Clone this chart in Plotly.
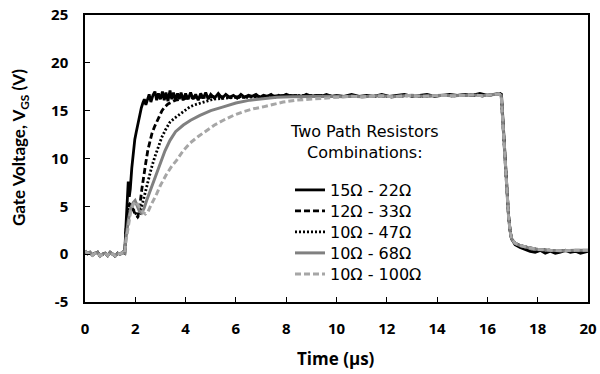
import plotly.graph_objects as go

# ---------------- data ----------------
series_names = ["15Ω - 22Ω", "12Ω - 33Ω", "10Ω - 47Ω", "10Ω - 68Ω", "10Ω - 100Ω"]

# common baseline before the turn-on edge (µs, V)
base_t = [0.0, 0.1, 0.2, 0.3, 0.4, 0.5, 0.6, 0.7, 0.8, 0.9, 1.0, 1.1, 1.2, 1.3, 1.4, 1.5, 1.58]
base_v = [0.35, 0.05, 0.2, -0.1, 0.1, 0.2, -0.2, 0.0, 0.1, -0.15, 0.2, 0.0, -0.2, 0.1, 0.0, 0.2, 0.1]

# 15Ω - 22Ω : fast rise, noisy plateau
s1_t = [1.62, 1.67, 1.72, 1.76, 1.80, 1.86, 1.92, 1.98, 2.04, 2.12, 2.18, 2.24, 2.30, 2.36,
        2.42, 2.48, 2.55, 2.62, 2.70, 2.78, 2.85, 2.92, 3.00, 3.08, 3.15, 3.22, 3.30, 3.38,
        3.45, 3.52, 3.60, 3.68, 3.75, 3.82, 3.90, 4.00, 4.10, 4.20, 4.30, 4.40, 4.50, 4.60,
        4.70, 4.80, 4.90, 5.00, 5.15, 5.30, 5.45, 5.60, 5.75, 5.90, 6.05, 6.20, 6.35, 6.50,
        6.65, 6.80, 6.95, 7.10, 7.25, 7.40, 7.55, 7.70, 7.85, 8.00, 8.20, 8.40, 8.60, 8.80,
        9.00, 9.20, 9.40, 9.60, 9.80, 10.0, 10.3, 10.6, 10.9, 11.2, 11.5, 11.8, 12.1, 12.4,
        12.7, 13.0, 13.3, 13.6, 13.9, 14.2, 14.5, 14.8, 15.1, 15.4, 15.7, 16.0, 16.3, 16.5,
        16.56, 16.63, 16.70, 16.77, 16.84, 16.90, 16.96, 17.1, 17.3, 17.5, 17.7, 17.9, 18.1,
        18.3, 18.5, 18.7, 18.9, 19.1, 19.3, 19.5, 19.7, 20.0]
s1_v = [2.5, 5.5, 7.6, 6.0, 6.8, 9.0, 10.9, 12.0, 12.8, 13.9, 14.6, 15.3, 15.8, 16.2,
        15.6, 16.2, 16.7, 15.9, 16.6, 17.0, 16.1, 16.8, 16.2, 17.0, 16.1, 16.9, 16.0, 17.1,
        16.2, 16.9, 16.1, 16.8, 16.2, 16.9, 16.1, 16.8, 16.2, 16.9, 16.2, 16.7, 16.1, 16.8,
        16.3, 16.9, 16.2, 16.7, 16.3, 16.8, 16.3, 16.7, 16.4, 16.6, 16.3, 16.7, 16.4, 16.6,
        16.5, 16.7, 16.4, 16.6, 16.5, 16.7, 16.4, 16.6, 16.5, 16.7, 16.5, 16.6, 16.4, 16.7,
        16.5, 16.6, 16.5, 16.7, 16.5, 16.6, 16.5, 16.7, 16.5, 16.6, 16.5, 16.7, 16.5, 16.6,
        16.7, 16.5, 16.6, 16.7, 16.5, 16.6, 16.7, 16.6, 16.7, 16.6, 16.8, 16.6, 16.7, 16.8,
        16.7, 13.4, 9.9, 6.4, 4.1, 2.5, 1.6, 1.0, 0.7, 0.5, 0.3, 0.2, 0.4,
        0.1, 0.3, 0.1, 0.2, 0.4, 0.2, 0.3, 0.1, 0.3]

# 12Ω - 33Ω
s2_t = [1.62, 1.70, 1.78, 1.86, 1.94, 2.02, 2.10, 2.18, 2.26, 2.34, 2.42, 2.50, 2.58, 2.66,
        2.76, 2.86, 2.96, 3.06, 3.18, 3.30, 3.45, 3.60, 3.80, 4.00, 4.30, 4.70, 5.20, 5.80,
        6.50, 7.20, 8.00, 8.80, 9.50, 10.0]
s2_v = [2.0, 4.5, 5.3, 5.0, 4.5, 4.1, 3.9, 5.0, 6.8, 8.4, 9.6, 10.9, 11.9, 12.6,
        13.3, 13.9, 14.5, 15.0, 15.4, 15.7, 15.9, 16.1, 16.2, 16.3, 16.4, 16.4, 16.5, 16.4,
        16.5, 16.5, 16.6, 16.5, 16.6, 16.5]

# 10Ω - 47Ω
s3_t = [1.62, 1.70, 1.78, 1.86, 1.94, 2.02, 2.10, 2.18, 2.26, 2.34, 2.42, 2.52, 2.64, 2.78,
        2.92, 3.05, 3.20, 3.38, 3.55, 3.71, 3.90, 4.04, 4.17, 4.35, 4.57, 4.85, 5.10, 5.50,
        6.00, 6.50, 7.20, 8.00, 8.80, 9.50, 10.0]
s3_v = [2.0, 4.5, 5.2, 5.0, 4.6, 4.2, 3.9, 4.2, 5.0, 6.0, 6.9, 7.7, 9.0, 10.2,
        11.3, 12.2, 13.0, 13.8, 14.2, 14.5, 14.9, 15.1, 15.4, 15.6, 15.8, 16.0, 16.2, 16.3,
        16.4, 16.4, 16.5, 16.5, 16.6, 16.5, 16.5]

# 10Ω - 68Ω
s4_t = [1.62, 1.72, 1.82, 1.92, 1.99, 2.08, 2.16, 2.25, 2.35, 2.45, 2.55, 2.65, 2.80, 2.98,
        3.18, 3.38, 3.60, 3.91, 4.20, 4.57, 5.00, 5.50, 6.00, 6.56, 7.10, 7.62, 8.20, 9.00, 10.0]
s4_v = [1.5, 3.5, 4.8, 5.4, 5.6, 5.0, 4.5, 4.3, 4.8, 5.6, 6.3, 7.0, 8.2, 9.5,
        10.8, 11.9, 12.8, 13.5, 14.0, 14.5, 15.0, 15.4, 15.8, 16.1, 16.25, 16.4, 16.45, 16.5, 16.5]

# 10Ω - 100Ω
s5_t = [1.62, 1.72, 1.82, 1.92, 2.00, 2.10, 2.20, 2.30, 2.40, 2.50, 2.60, 2.72, 2.85, 3.00,
        3.12, 3.25, 3.45, 3.64, 3.90, 4.17, 4.50, 4.84, 5.15, 5.50, 5.90, 6.30, 6.70, 7.09,
        7.50, 7.88, 8.40, 9.00, 9.50, 10.0]
s5_v = [1.2, 3.0, 4.5, 5.2, 5.5, 5.2, 4.8, 4.4, 4.2, 4.4, 5.0, 5.6, 6.3, 7.2,
        7.8, 8.4, 9.2, 9.8, 10.8, 11.6, 12.3, 12.9, 13.5, 14.0, 14.5, 14.9, 15.2, 15.4,
        15.7, 15.9, 16.1, 16.2, 16.3, 16.35]

# common plateau end and turn-off edge for the slower combinations
tail_t = [10.2, 10.6, 11.0, 11.4, 11.8, 12.2, 12.6, 13.0, 13.4, 13.8, 14.2, 14.6, 15.0,
          15.4, 15.8, 16.2, 16.45, 16.55, 16.63, 16.70, 16.77, 16.84, 16.90, 16.96, 17.1,
          17.3, 17.6, 18.0, 18.5, 19.0, 19.5, 20.0]
tail_v = [16.45, 16.5, 16.45, 16.5, 16.55, 16.45, 16.55, 16.6, 16.5, 16.55, 16.6, 16.55, 16.6,
          16.65, 16.55, 16.65, 16.75, 16.6, 13.3, 9.8, 6.3, 4.0, 2.5, 1.6, 1.15,
          0.9, 0.7, 0.5, 0.4, 0.35, 0.4, 0.4]

x_ticks = [0, 2, 4, 6, 8, 10, 12, 14, 16, 18, 20]
y_ticks = [-5, 0, 5, 10, 15, 20, 25]

# ---------------- styles ----------------
styles = [
    dict(color="#000000", width=2.8, dash="solid"),
    dict(color="#000000", width=2.8, dash="6px,3px"),
    dict(color="#000000", width=2.8, dash="2px,2px"),
    dict(color="#808080", width=3.0, dash="solid"),
    dict(color="#a6a6a6", width=3.0, dash="6px,3px"),
]

series = [
    (base_t + s1_t, base_v + s1_v),
    (base_t + s2_t + tail_t, base_v + s2_v + tail_v),
    (base_t + s3_t + tail_t, base_v + s3_v + tail_v),
    (base_t + s4_t + tail_t, base_v + s4_v + tail_v),
    (base_t + s5_t + tail_t, base_v + s5_v + tail_v),
]

# one single-item legend per series so that the rows sit at the reference spacing
legend_ids = ["legend", "legend2", "legend3", "legend4", "legend5"]
legend_rows_px = [190, 211, 232, 253, 274]
legend_left_px = 290

fig = go.Figure()
for name, (tt, vv), st, lid in zip(series_names, series, styles, legend_ids):
    fig.add_trace(go.Scatter(x=tt, y=vv, mode="lines", name=name, line=st, legend=lid))

legend_font = dict(family="'DejaVu Sans', 'Liberation Sans', sans-serif", size=16, color="black")
legend_layout = {}
for lid, row in zip(legend_ids, legend_rows_px):
    legend_layout[lid] = dict(
        x=(legend_left_px - 85) / 503, y=(302 - row) / 287,
        xanchor="left", yanchor="middle",
        bgcolor="rgba(0,0,0,0)", borderwidth=0,
        font=legend_font, itemwidth=30,
    )

tick_font = dict(family="'Open Sans', Lato, sans-serif", size=15, color="black", weight="bold")
title_font = dict(family="'Open Sans', Lato, sans-serif", size=17, color="black", weight="bold")

fig.update_layout(
    width=600, height=374,
    margin=dict(l=85, r=12, t=15, b=72, autoexpand=False),
    paper_bgcolor="white", plot_bgcolor="white",
    showlegend=True,
    xaxis=dict(
        range=[0, 20], tickvals=x_ticks, ticktext=[str(v) for v in x_ticks],
        ticks="inside", ticklen=5, tickwidth=1.2, tickcolor="black",
        showline=True, linecolor="black", linewidth=1.5, mirror=True,
        showgrid=False, zeroline=False, automargin=False,
        tickfont=tick_font, ticklabelstandoff=12,
    ),
    yaxis=dict(
        range=[-5, 25], tickvals=y_ticks, ticktext=[str(v) for v in y_ticks],
        ticks="inside", ticklen=5, tickwidth=1.2, tickcolor="black",
        showline=True, linecolor="black", linewidth=1.5, mirror=True,
        showgrid=False, zeroline=False, automargin=False,
        tickfont=tick_font, ticklabelstandoff=12,
    ),
    annotations=[
        dict(text="Time (µs)", xref="paper", yref="paper", x=(336 - 85) / 503, y=(302 - 358) / 287,
             xanchor="center", yanchor="middle", showarrow=False, font=title_font),
        dict(text="Gate Voltage, V<sub>GS</sub> (V)", xref="paper", yref="paper",
             x=(20 - 85) / 503, y=(302 - 148) / 287, textangle=-90,
             xanchor="center", yanchor="middle", showarrow=False,
             font=dict(family="Lato, 'Open Sans', sans-serif", size=17, color="black", weight="bold")),
        dict(text="Two Path Resistors<br>Combinations:", xref="paper", yref="paper",
             x=(364 - 85) / 503, y=(302 - 142) / 287, xanchor="center", yanchor="middle",
             align="center", showarrow=False, font=legend_font),
    ],
    **legend_layout,
)

fig.write_html("out.html")
